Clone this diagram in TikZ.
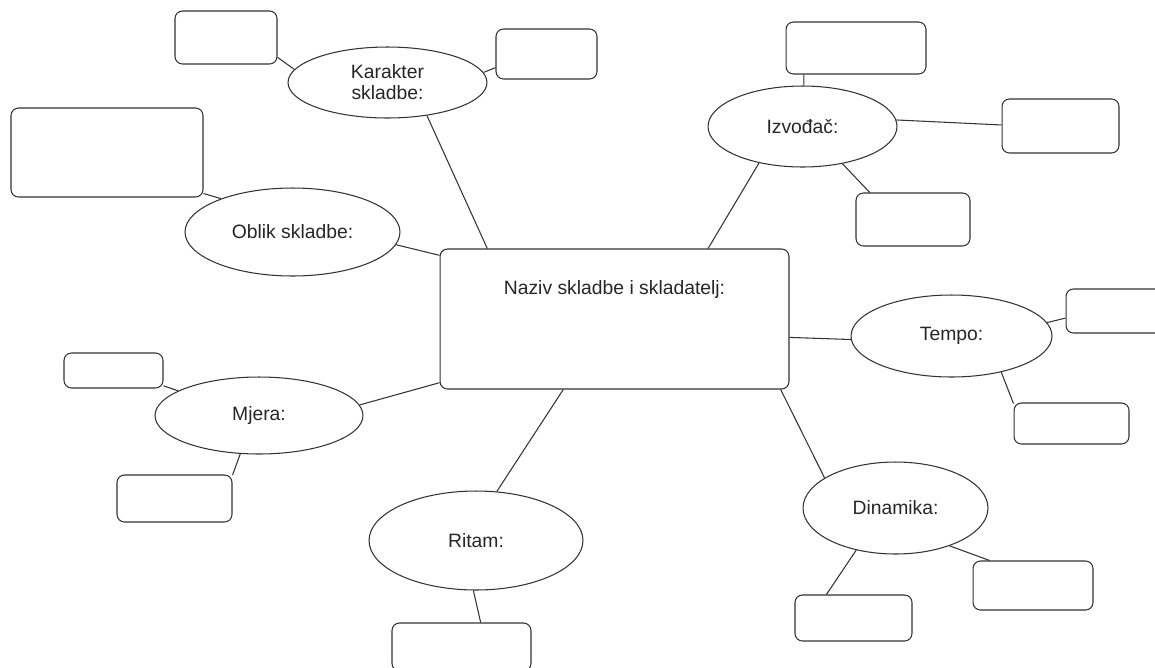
\documentclass[tikz,border=0pt]{standalone}
\usepackage{fontspec}
\setmainfont{Liberation Sans}
\usetikzlibrary{shapes.geometric}

\begin{document}
\begin{tikzpicture}[x=0.02cm, y=-0.02cm, line width=0.6pt,
  mjehur/.style={ellipse, draw=black!80, inner sep=0pt, align=center,
    text=black!85, font=\fontsize{11}{12}\selectfont},
  kutija/.style={rectangle, draw=black!80, rounded corners=0.15cm, inner sep=0pt},
  veza/.style={draw=black!80}]

\useasboundingbox (0,0) rectangle (1155,667);
\clip (0,0) rectangle (1155,667);

% sredisnja kutija
\node[kutija, minimum width=6.98cm, minimum height=2.80cm,
  label={[anchor=center, yshift=-0.82cm, text=black!85, font=\fontsize{11}{12}\selectfont]north:Naziv skladbe i skladatelj:}]
  (naziv) at (614.5,319) {};

% mjehurici
\node[mjehur, minimum width=3.98cm, minimum height=1.42cm] (kar) at (387.5,82.5) {Karakter\\skladbe:};
\node[mjehur, minimum width=4.30cm, minimum height=1.76cm] (obl) at (292.5,232) {Oblik skladbe:};
\node[mjehur, minimum width=3.78cm, minimum height=1.62cm] (izv) at (802.5,126.5) {Izvođač:};
\node[mjehur, minimum width=4.02cm, minimum height=1.64cm] (tem) at (951.5,336) {Tempo:};
\node[mjehur, minimum width=3.70cm, minimum height=1.84cm] (din) at (895.5,508) {Dinamika:};
\node[mjehur, minimum width=4.16cm, minimum height=1.54cm] (mje) at (259,415.5) {Mjera:};
\node[mjehur, minimum width=4.28cm, minimum height=1.98cm] (rit) at (476,540.5) {Ritam:};

% prazne kutije
\node[kutija, minimum width=2.04cm, minimum height=1.06cm] (k1) at (226,37.5) {};
\node[kutija, minimum width=2.02cm, minimum height=1.00cm] (k2) at (546.5,54) {};
\node[kutija, minimum width=3.84cm, minimum height=1.78cm] (k3) at (107,152.5) {};
\node[kutija, minimum width=2.80cm, minimum height=1.04cm] (k4) at (856,48) {};
\node[kutija, minimum width=2.34cm, minimum height=1.08cm] (k5) at (1060.5,126) {};
\node[kutija, minimum width=2.28cm, minimum height=1.06cm] (k6) at (913,219.5) {};
\node[kutija, minimum width=2.28cm, minimum height=0.88cm] (k7) at (1123,311) {};
\node[kutija, minimum width=2.30cm, minimum height=0.82cm] (k8) at (1071.5,423.5) {};
\node[kutija, minimum width=2.40cm, minimum height=0.98cm] (k9) at (1033,585.5) {};
\node[kutija, minimum width=2.34cm, minimum height=0.92cm] (k10) at (853.5,618) {};
\node[kutija, minimum width=1.98cm, minimum height=0.70cm] (k11) at (113.5,370.5) {};
\node[kutija, minimum width=2.30cm, minimum height=0.94cm] (k12) at (174.5,498.5) {};
\node[kutija, minimum width=2.78cm, minimum height=0.96cm] (k13) at (461.5,647) {};

% veze
\draw[veza] (kar.172) -- (k1.-21);
\draw[veza] (kar.6) -- (k2.195);
\draw[veza] (kar.-40) -- (naziv.151);
\draw[veza] (obl.155) -- (k3.-23);
\draw[veza] (obl.-7) -- (naziv.160);
\draw[veza] (izv.88) -- (k4.207);
\draw[veza] (izv.4) -- (k5.179);
\draw[veza] (izv.-43) -- (k6.148);
\draw[veza] (izv.220) -- (naziv.37);
\draw[veza] (tem.182) -- (naziv.-6);
\draw[veza] (tem.8) -- (k7.187);
\draw[veza] (tem.-36) -- (k8.161);
\draw[veza] (din.157) -- (naziv.-23);
\draw[veza] (din.-35) -- (k9.150);
\draw[veza] (din.227) -- (k10.139);
\draw[veza] (mje.163) -- (k11.-17);
\draw[veza] (mje.244) -- (k12.22);
\draw[veza] (mje.6) -- (naziv.200);
\draw[veza] (rit.67) -- (naziv.234);
\draw[veza] (rit.267) -- (k13.52);

\end{tikzpicture}
\end{document}
